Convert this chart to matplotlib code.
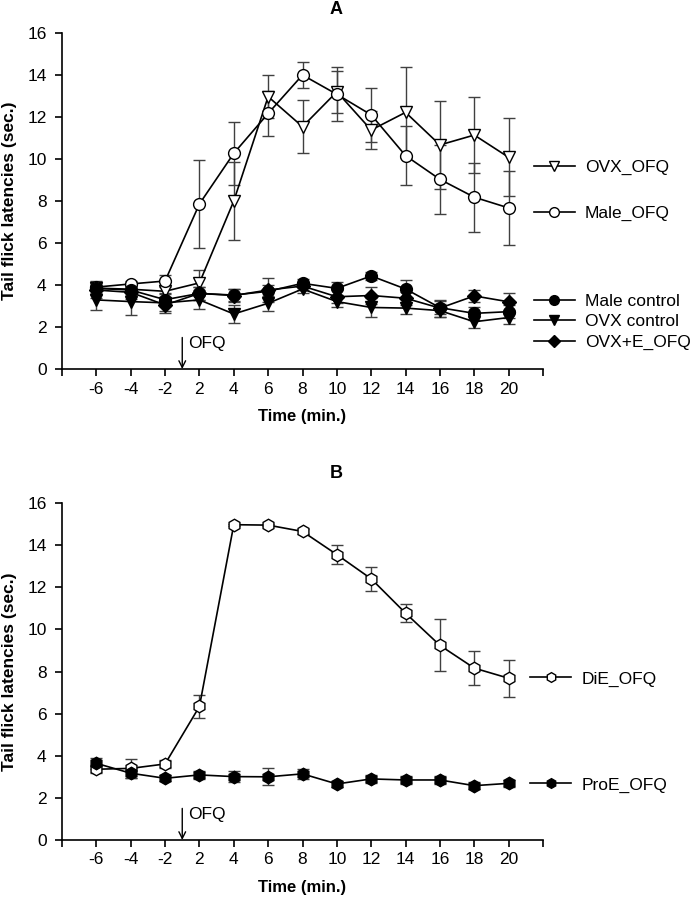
import matplotlib.pyplot as plt
from matplotlib.lines import Line2D

plt.rcParams['font.family'] = ['Liberation Sans', 'DejaVu Sans']
plt.rcParams['font.size'] = 12

# time points (min.), plotted as evenly spaced categories
time_labels = ['-6', '-4', '-2', '2', '4', '6', '8', '10', '12', '14', '16', '18', '20']

# panel A
ovx_ofq = [3.85, 3.8, 3.7, 4.1, 8.0, 12.97, 11.54, 13.2, 11.38, 12.22, 10.67, 11.14, 10.08]
ovx_ofq_err = [0.3, 0.2, 0.3, 0.6, 1.86, 1.03, 1.26, 1.0, 0.92, 2.15, 2.1, 1.83, 1.85]
male_ofq = [3.9, 4.05, 4.19, 7.86, 10.27, 12.17, 14.0, 13.08, 12.1, 10.16, 9.03, 8.18, 7.67]
male_ofq_err = [0.3, 0.15, 0.3, 2.1, 1.5, 1.07, 0.6, 1.28, 1.3, 1.4, 1.65, 1.65, 1.77]
male_ctrl = [3.84, 3.76, 3.3, 3.6, 3.52, 3.7, 4.08, 3.84, 4.43, 3.81, 2.92, 2.65, 2.73]
male_ctrl_err = [0.3, 0.25, 0.3, 0.3, 0.3, 0.3, 0.2, 0.3, 0.2, 0.45, 0.3, 0.3, 0.3]
ovx_ctrl = [3.29, 3.21, 3.15, 3.29, 2.62, 3.13, 3.81, 3.21, 2.93, 2.9, 2.78, 2.25, 2.45]
ovx_ctrl_err = [0.5, 0.65, 0.4, 0.45, 0.45, 0.35, 0.2, 0.25, 0.45, 0.3, 0.3, 0.3, 0.3]
ovxe_ofq = [3.76, 3.65, 3.05, 3.6, 3.5, 3.76, 3.95, 3.44, 3.5, 3.37, 2.9, 3.48, 3.2]
ovxe_ofq_err = [0.4, 0.3, 0.4, 0.3, 0.3, 0.55, 0.2, 0.3, 0.4, 0.3, 0.4, 0.3, 0.4]

# panel B
die_ofq = [3.36, 3.4, 3.61, 6.34, 14.97, 14.95, 14.65, 13.55, 12.4, 10.77, 9.24, 8.16, 7.68]
die_ofq_err = [0.2, 0.45, 0.2, 0.56, 0.05, 0.05, 0.1, 0.45, 0.57, 0.43, 1.23, 0.82, 0.87]
proe_ofq = [3.64, 3.17, 2.93, 3.09, 3.01, 3.0, 3.14, 2.66, 2.9, 2.85, 2.85, 2.58, 2.69]
proe_ofq_err = [0.25, 0.25, 0.15, 0.2, 0.25, 0.4, 0.25, 0.15, 0.2, 0.2, 0.2, 0.15, 0.15]

x = list(range(len(time_labels)))


def draw(ax, y, err, marker, face, ms=8.5):
    ax.errorbar(x, y, yerr=err, fmt='none', ecolor='#404040', elinewidth=1.0,
                capsize=4, capthick=1.0, zorder=2)
    ax.plot(x, y, color='black', lw=1.2, marker=marker, ms=ms,
            mfc=face, mec='black', mew=1.0, zorder=3)


def handle(marker, face, ms=7):
    return Line2D([], [], color='black', lw=1.2, marker=marker, ms=ms,
                  mfc=face, mec='black', mew=1.0)


def style(ax):
    ax.set_xlim(-1, 13)
    ax.set_ylim(0, 16)
    ax.set_xticks(range(-1, 14))
    ax.set_xticklabels([''] + time_labels + [''])
    ax.set_yticks(range(0, 17, 2))
    ax.spines['top'].set_visible(False)
    ax.spines['right'].set_visible(False)
    for s in ['left', 'bottom']:
        ax.spines[s].set_linewidth(1.2)
    ax.tick_params(direction='out', length=5, width=1.2, labelsize=12.5)
    ax.tick_params(axis='y', pad=6)
    ax.tick_params(axis='x', pad=4)
    ax.set_ylabel('Tail flick latencies (sec.)', fontweight='bold', fontsize=12.5, va='center')
    ax.yaxis.set_label_coords(-0.11, 0.5)
    ax.set_xlabel('Time (min.)', fontweight='bold', fontsize=12, va='center')
    ax.xaxis.set_label_coords(0.5, -0.142)
    # OFQ injection marker
    ax.annotate('', xy=(2.5, 0), xytext=(2.5, 1.5),
                arrowprops=dict(arrowstyle='->', lw=1.0, color='black', shrinkA=0, shrinkB=0))
    ax.text(2.68, 1.2, 'OFQ', va='center', ha='left', fontsize=12.5)


fig = plt.figure(figsize=(6.91, 8.99), dpi=100)
axA = fig.add_axes([62 / 691, 1 - 369 / 899, 481 / 691, 336 / 899])
axB = fig.add_axes([62 / 691, 1 - 840 / 899, 481 / 691, 337 / 899])

draw(axA, ovx_ofq, ovx_ofq_err, 'v', 'white', 9)
draw(axA, male_ofq, male_ofq_err, 'o', 'white')
draw(axA, male_ctrl, male_ctrl_err, 'o', 'black')
draw(axA, ovx_ctrl, ovx_ctrl_err, 'v', 'black', 9)
draw(axA, ovxe_ofq, ovxe_ofq_err, 'D', 'black', 7.5)
style(axA)

leg_kw = dict(frameon=False, loc='center left', borderaxespad=0, borderpad=0,
              handlelength=2.35, handletextpad=0.6, fontsize=12.5)
leg1 = axA.legend([handle('v', 'white', 7.5), handle('o', 'white')], ['OVX_OFQ', 'Male_OFQ'],
                  bbox_to_anchor=(0.981, 8.5 / 16), labelspacing=1.75, **leg_kw)
axA.add_artist(leg1)
axA.legend([handle('o', 'black'), handle('v', 'black', 7.5), handle('D', 'black', 6)],
           ['Male control', 'OVX control', 'OVX+E_OFQ'],
           bbox_to_anchor=(0.981, 2.25 / 16), labelspacing=0.3, **leg_kw)

draw(axB, die_ofq, die_ofq_err, 'h', 'white', 9)
draw(axB, proe_ofq, proe_ofq_err, 'h', 'black', 9)
style(axB)

leg3 = axB.legend([handle('h', 'white')], ['DiE_OFQ'],
                  bbox_to_anchor=(0.974, 7.65 / 16), **leg_kw)
axB.add_artist(leg3)
axB.legend([handle('h', 'black')], ['ProE_OFQ'],
           bbox_to_anchor=(0.974, 2.61 / 16), **leg_kw)

fig.text(336 / 691, 1 - 10 / 899, 'A', ha='center', va='center', fontweight='bold', fontsize=13)
fig.text(336 / 691, 1 - 473 / 899, 'B', ha='center', va='center', fontweight='bold', fontsize=13)

fig.savefig('out.png', dpi=100)
